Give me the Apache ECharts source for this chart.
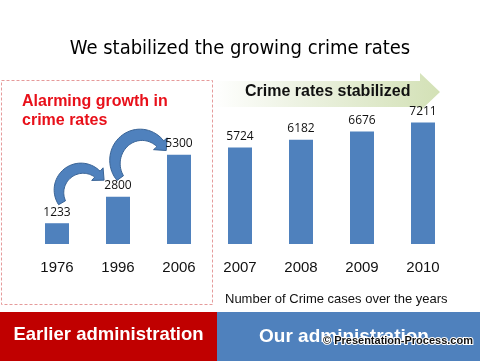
<!DOCTYPE html>
<html><head><meta charset="utf-8">
<script src="https://cdn.jsdelivr.net/npm/echarts@6/dist/echarts.min.js"></script>
<style>html,body{margin:0;padding:0;background:#fff}#c{width:480px;height:361px}</style>
</head><body><div id="c"></div>
<script>
const categories = ['1976','1996','2006','2007','2008','2009','2010'];
const crimeCases = [1233, 2800, 5300, 5724, 6182, 6676, 7211];
const titleText = 'We stabilized the growing crime rates';
const axisTitle = 'Number of Crime cases over the years';

const chart = echarts.init(document.getElementById('c'), null, {renderer:'canvas'});
chart.setOption({
  animation:false,
  backgroundColor:'#fff',
  title:{text:titleText,left:'center',top:34,textStyle:{fontFamily:'DejaVu Sans Condensed',fontSize:20,fontWeight:'normal',color:'#000'}},
  grid:{left:26.5,width:427,top:109.2,height:134.8},
  xAxis:{type:'category',data:categories,axisLine:{show:false},axisTick:{show:false},
    axisLabel:{fontFamily:'Liberation Sans',fontSize:15,color:'#111',margin:16}},
  yAxis:{type:'value',min:0,max:8000,show:false,splitLine:{show:false}},
  series:[{type:'bar',data:crimeCases,barWidth:24,itemStyle:{color:'#4F81BD'},
    label:{show:true,position:'top',distance:5,fontFamily:'Open Sans',fontSize:12,color:'#111'}}]
});

function arcArrow(ctr,rx,ry,a0,a1,hw0,hwMid,hw1,headHalf,headLen){
  const N=36, L=[], R=[];
  let tx=0,ty=0,ex=0,ey=0;
  for(let i=0;i<=N;i++){
    const t=i/N, a=(a0+(a1-a0)*t)*Math.PI/180;
    const x=ctr[0]+rx*Math.cos(a), y=ctr[1]+ry*Math.sin(a);
    let dx=-rx*Math.sin(a), dy=ry*Math.cos(a);
    const l=Math.hypot(dx,dy); dx/=l; dy/=l;
    tx=dx; ty=dy; ex=x; ey=y;
    const hw = t<0.5 ? hw0+(hwMid-hw0)*Math.sin(Math.PI*t) : hw1+(hwMid-hw1)*Math.sin(Math.PI*t);
    L.push([x-dy*hw,y+dx*hw]); R.push([x+dy*hw,y-dx*hw]);
  }
  const head=[[ex-ty*headHalf,ey+tx*headHalf],[ex+tx*headLen,ey+ty*headLen],[ex+ty*headHalf,ey-tx*headHalf]];
  return L.concat(head).concat(R.slice().reverse());
}

function px(i){return chart.convertToPixel({seriesIndex:0},[i,crimeCases[i]]);}
function add(p,dx,dy){return [p[0]+dx,p[1]+dy];}

const b0=px(0), b1=px(1);
const arc1=add(b0,25,-32), arc2=add(b1,23,-35);

chart.setOption({graphic:[
  {type:'rect',shape:{x:1.5,y:80.5,width:211,height:224},style:{fill:'none',stroke:'#e59a9a',lineWidth:1,lineDash:[3,2]}},
  {type:'polygon',shape:{points:[[213,81],[420,81],[420,73],[440,92],[420,111],[420,107],[213,107]]},
    style:{fill:new echarts.graphic.LinearGradient(0,0,1,0,[{offset:0,color:'rgba(255,255,255,1)'},{offset:0.35,color:'#eef3e4'},{offset:1,color:'#d3e1b6'}])}},
  {type:'text',x:245,y:92,style:{text:'Crime rates stabilized',fontFamily:'Liberation Sans',fontWeight:'bold',fontSize:16,fill:'#111',verticalAlign:'middle'}},
  {type:'text',x:22,y:92,style:{text:'Alarming growth in\ncrime rates',fontFamily:'Liberation Sans',fontWeight:'bold',fontSize:16,lineHeight:19,fill:'#e8101a'}},
  {type:'polygon',shape:{points:arcArrow(arc1,23,23,150,312,4,5.5,4,8.5,9)},style:{fill:'#4F81BD',stroke:'#3a6496',lineWidth:1}},
  {type:'polygon',shape:{points:arcArrow(arc2,26,27,143,318,4,6,4.5,9,9)},style:{fill:'#4F81BD',stroke:'#3a6496',lineWidth:1}},
  {type:'text',x:225,y:299,style:{text:axisTitle,fontFamily:'Liberation Sans',fontSize:13,fill:'#111',verticalAlign:'middle'}},
  {type:'rect',shape:{x:0,y:312,width:217,height:49},style:{fill:'#C00000'}},
  {type:'rect',shape:{x:217,y:312,width:263,height:49},style:{fill:'#4F81BD'}},
  {type:'text',x:108.5,y:335,style:{text:'Earlier administration',fontFamily:'Liberation Sans',fontWeight:'bold',fontSize:18.5,fill:'#fff',align:'center',verticalAlign:'middle'}},
  {type:'text',x:344,y:337,style:{text:'Our administration',fontFamily:'Liberation Sans',fontWeight:'bold',fontSize:19,fill:'#fff',align:'center',verticalAlign:'middle'}},
  {type:'text',x:323,y:341,style:{text:'© Presentation-Process.com',fontFamily:'Liberation Sans',fontWeight:'bold',fontSize:11,fill:'#111',stroke:'#fff',lineWidth:2,verticalAlign:'middle'}}
]});
</script></body></html>
